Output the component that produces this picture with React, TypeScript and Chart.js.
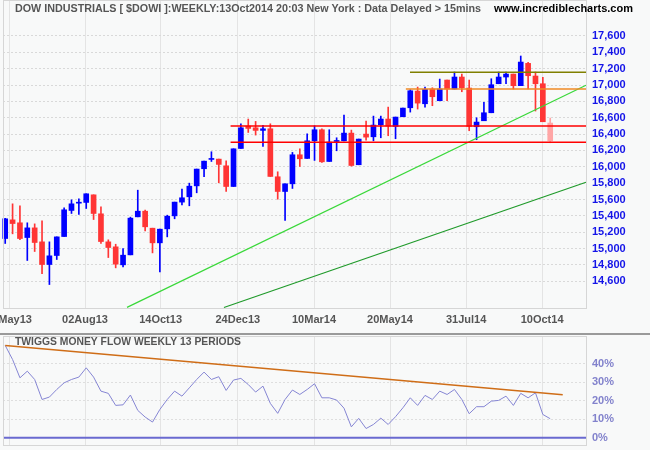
import React, { useEffect, useRef } from 'react';
import { Chart, registerables } from 'chart.js';
Chart.register(...registerables);

// Weekly candles (Dow Industrials), oldest first
const opens = [15123, 15351, 15315, 15135, 15253, 15082, 14805, 14915, 15147, 15466, 15555, 15564, 15657, 15425, 15082, 15021, 14801, 14923, 15388, 15457, 15249, 15070, 15241, 15400, 15568, 15633, 15767, 15976, 16090, 16094, 16012, 15759, 16224, 16498, 16477, 16445, 16465, 15878, 15698, 15792, 16147, 16102, 16318, 16453, 16065, 16310, 16318, 16412, 16025, 16400, 16367, 16514, 16584, 16494, 16612, 16722, 16926, 16771, 16951, 16808, 17061, 16951, 17098, 16963, 16490, 16563, 16661, 17016, 17098, 17134, 16992, 17265, 17110, 17016, 16535];
const highs = [15370, 15547, 15523, 15315, 15302, 15339, 15082, 15143, 15498, 15596, 15608, 15670, 15657, 15510, 15107, 15053, 15000, 15384, 15714, 15470, 15249, 15237, 15408, 15568, 15727, 15800, 15972, 16069, 16184, 16094, 16073, 16220, 16526, 16584, 16555, 16506, 16526, 15939, 15792, 16176, 16220, 16404, 16502, 16465, 16453, 16355, 16633, 16449, 16339, 16559, 16620, 16620, 16730, 16608, 16718, 16943, 16975, 16975, 16967, 17073, 17061, 17159, 17134, 17061, 16600, 16788, 17077, 17159, 17159, 17134, 17355, 17277, 17159, 17094, 16596];
const lows = [15062, 15180, 15110, 14854, 14964, 14694, 14560, 14866, 15147, 15429, 15417, 15490, 15355, 15062, 14890, 14764, 14776, 14923, 15388, 15217, 14947, 14715, 15143, 15364, 15535, 15523, 15682, 15878, 16065, 15804, 15698, 15759, 16224, 16420, 16388, 16249, 15882, 15604, 15343, 15735, 16004, 16102, 16078, 16053, 16065, 16196, 16318, 16008, 16025, 16327, 16318, 16355, 16380, 16343, 16612, 16669, 16706, 16730, 16747, 16808, 16808, 16951, 16918, 16441, 16331, 16563, 16661, 17016, 17016, 16951, 16992, 16951, 16682, 16551, 16294];
const closes = [15364, 15306, 15123, 15253, 15074, 14805, 14911, 15143, 15474, 15547, 15562, 15670, 15429, 15086, 15013, 14809, 14919, 15372, 15457, 15266, 15070, 15237, 15396, 15568, 15621, 15763, 15972, 16069, 16098, 16029, 15759, 16220, 16477, 16469, 16445, 16465, 15882, 15698, 15792, 16147, 16098, 16318, 16453, 16061, 16302, 16322, 16412, 16016, 16339, 16363, 16510, 16584, 16498, 16608, 16718, 16930, 16779, 16947, 16857, 16951, 16951, 17098, 16967, 16494, 16547, 16661, 17004, 17098, 17134, 16992, 17281, 17114, 17016, 16551, 16318];

// Twiggs Money Flow (weekly, 13 periods), %
const moneyFlow = [49.9, 42.3, 32.4, 36.0, 31.5, 20.7, 22.0, 26.1, 29.7, 31.5, 32.8, 37.8, 32.8, 25.2, 24.0, 17.5, 17.8, 23.1, 14.8, 11.2, 8.5, 15.3, 20.7, 25.2, 22.5, 27.0, 31.5, 35.5, 31.5, 33.0, 25.6, 31.2, 32.1, 28.8, 24.7, 27.9, 18.6, 13.2, 20.7, 25.8, 23.4, 26.1, 29.2, 21.6, 21.6, 20.4, 16.0, 5.9, 10.5, 5.0, 7.2, 10.6, 7.2, 11.4, 16.2, 21.6, 17.5, 22.9, 20.7, 25.2, 23.4, 26.1, 20.7, 13.0, 16.8, 16.8, 19.8, 20.2, 22.5, 17.5, 24.0, 21.6, 24.3, 12.6, 10.3];

const xTickPos = [0.52, 10.84, 21.1, 31.58, 41.93, 52.25, 62.58, 72.9];
const xTickLabels = ['22May13', '02Aug13', '14Oct13', '24Dec13', '10Mar14', '20May14', '31Jul14', '10Oct14'];
const priceTicks = [14600, 14800, 15000, 15200, 15400, 15600, 15800, 16000, 16200, 16400, 16600, 16800, 17000, 17200, 17400, 17600];
const mfTicks = [0, 10, 20, 30, 40];

const X_MIN = -0.3;
const X_MAX = 78.86;
const PRICE_MIN = 14273;
const PRICE_MAX = 18040;

const supportLevels = [16500, 16300];
const supportStartX = 30.6;
const olivePrice = 17155;
const oliveStartX = 54.96;
const orangePrice = 16950;
const orangeStartX = 54.4;
const upperTrendX = [16.54, 78.86];
const upperTrendY = [14281, 16998];
const lowerTrendX = [29.7, 78.86];
const lowerTrendY = [14279, 15811];
const mfTrendX = [0, 75.7];
const mfTrendY = [49.9, 23.2];

const titleText = 'DOW INDUSTRIALS [ $DOWI ]:WEEKLY:13Oct2014 20:03 New York : Data Delayed > 15mins';
const siteText = 'www.incrediblecharts.com';
const mfTitle = 'TWIGGS MONEY FLOW WEEKLY 13 PERIODS';

const BG = '#f8f9f9';
const FONT = '"Liberation Sans", Arial, sans-serif';

export default function App() {
  const topRef = useRef<HTMLCanvasElement>(null);
  const botRef = useRef<HTMLCanvasElement>(null);

  useEffect(() => {
    document.body.style.margin = '0';
    Chart.defaults.font.family = FONT;

    const bgPlugin = {
      id: 'bgFill',
      beforeDraw(chart: any) {
        const { ctx, width, height } = chart;
        ctx.save();
        ctx.fillStyle = BG;
        ctx.fillRect(0, 0, width, height);
        ctx.restore();
      },
    };

    const n = opens.length;
    const colors = opens.map((o, i) =>
      i === n - 1 ? '#ffa6a6' : closes[i] >= o ? '#0000ff' : '#ff3535'
    );

    const line = (pts: { x: number; y: number }[], color: string, width = 1) => ({
      type: 'line' as const,
      data: pts,
      borderColor: color,
      borderWidth: width,
      pointRadius: 0,
      fill: false,
      tension: 0,
      order: 0,
      clip: false as any,
    });

    const noPad = (s: any) => {
      s.paddingTop = 0;
      s.paddingBottom = 0;
      s.paddingLeft = 0;
      s.paddingRight = 0;
    };

    const topTextPlugin = {
      id: 'topText',
      afterDraw(chart: any) {
        const { ctx, chartArea, scales } = chart;
        ctx.save();
        ctx.strokeStyle = '#d6d6d6';
        ctx.lineWidth = 1;
        ctx.strokeRect(chartArea.left + 0.5, chartArea.top + 0.5, chartArea.right - chartArea.left, chartArea.bottom - chartArea.top);
        ctx.font = 'bold 11px ' + FONT;
        ctx.textBaseline = 'middle';
        ctx.textAlign = 'center';
        ctx.fillStyle = '#555555';
        xTickPos.forEach((v, i) => ctx.fillText(xTickLabels[i], scales.x.getPixelForValue(v), 320));
        ctx.textAlign = 'left';
        ctx.fillStyle = '#555555';
        ctx.fillText(titleText, 15, 9, 466);
        ctx.fillStyle = '#000000';
        ctx.fillText(siteText, 494, 9, 143);
        ctx.restore();
      },
    };

    const top = new Chart(topRef.current as HTMLCanvasElement, {
      type: 'bar',
      data: {
        datasets: [
          line([{ x: supportStartX, y: supportLevels[0] }, { x: X_MAX, y: supportLevels[0] }], '#ff0000', 1.5),
          line([{ x: supportStartX, y: supportLevels[1] }, { x: X_MAX, y: supportLevels[1] }], '#ff0000', 1.5),
          line([{ x: oliveStartX, y: olivePrice }, { x: X_MAX, y: olivePrice }], '#808000', 1.5),
          line([{ x: orangeStartX, y: orangePrice }, { x: X_MAX, y: orangePrice }], '#f08a24', 1.5),
          line([{ x: upperTrendX[0], y: upperTrendY[0] }, { x: upperTrendX[1], y: upperTrendY[1] }], '#3ad83a', 1.2),
          line([{ x: lowerTrendX[0], y: lowerTrendY[0] }, { x: lowerTrendX[1], y: lowerTrendY[1] }], '#1f9a2a', 1.2),
          {
            type: 'bar' as const,
            data: opens.map((o, i) => ({ x: i, y: [o, closes[i]] })) as any,
            backgroundColor: colors,
            barThickness: 5,
            minBarLength: 1,
            grouped: false,
            order: 1,
            clip: false as any,
          },
          {
            type: 'bar' as const,
            data: lows.map((l, i) => ({ x: i, y: [l, highs[i]] })) as any,
            backgroundColor: colors,
            barThickness: 1,
            grouped: false,
            order: 2,
            clip: false as any,
          },
        ] as any,
      },
      options: {
        responsive: false,
        animation: false,
        devicePixelRatio: 1,
        layout: { padding: { left: 3, top: 0, right: 0, bottom: 0 } },
        plugins: { legend: { display: false }, tooltip: { enabled: false } },
        scales: {
          x: {
            type: 'linear',
            min: X_MIN,
            max: X_MAX,
            offset: false,
            grid: { offset: false, color: '#e4e4e4', drawTicks: false },
            border: { display: false },
            ticks: { display: false },
            afterBuildTicks: (s: any) => { s.ticks = xTickPos.map((v) => ({ value: v })); },
            afterFit: (s: any) => { s.height = 25; noPad(s); },
          } as any,
          y: {
            position: 'right',
            min: PRICE_MIN,
            max: PRICE_MAX,
            grid: { color: '#d9d9d9', drawTicks: false },
            border: { display: false, dash: [2, 2] },
            ticks: {
              color: '#1414e8',
              padding: 6,
              font: { family: FONT, size: 11, weight: 'bold' },
              callback: (v: any) => Number(v).toLocaleString('en-US'),
            },
            afterBuildTicks: (s: any) => { s.ticks = priceTicks.map((v) => ({ value: v })); },
            afterFit: (s: any) => { s.width = 64; noPad(s); },
          } as any,
        },
      },
      plugins: [bgPlugin, topTextPlugin],
    });

    const botTextPlugin = {
      id: 'botText',
      afterDraw(chart: any) {
        const { ctx, chartArea, width } = chart;
        ctx.save();
        ctx.fillStyle = '#9a9a9a';
        ctx.fillRect(0, 0, width, 2);
        ctx.strokeStyle = '#d6d6d6';
        ctx.lineWidth = 1;
        ctx.strokeRect(chartArea.left + 0.5, chartArea.top + 0.5, chartArea.right - chartArea.left, chartArea.bottom - chartArea.top);
        ctx.font = 'bold 11px ' + FONT;
        ctx.textBaseline = 'middle';
        ctx.textAlign = 'left';
        ctx.fillStyle = '#555555';
        ctx.fillText(mfTitle, 15, 9, 226);
        ctx.restore();
      },
    };

    const bot = new Chart(botRef.current as HTMLCanvasElement, {
      type: 'line',
      data: {
        datasets: [
          {
            data: moneyFlow.map((v, i) => ({ x: i, y: v })),
            borderColor: '#8686d4',
            borderWidth: 1,
            pointRadius: 0,
            tension: 0,
            order: 2,
          },
          {
            data: [{ x: mfTrendX[0], y: mfTrendY[0] }, { x: mfTrendX[1], y: mfTrendY[1] }],
            borderColor: '#cf6d17',
            borderWidth: 1.5,
            pointRadius: 0,
            tension: 0,
            order: 1,
          },
          {
            data: [{ x: X_MIN, y: 0 }, { x: X_MAX, y: 0 }],
            borderColor: '#6a6ad0',
            borderWidth: 2,
            pointRadius: 0,
            tension: 0,
            order: 0,
          },
        ] as any,
      },
      options: {
        responsive: false,
        animation: false,
        devicePixelRatio: 1,
        layout: { padding: { left: 3, top: 3, right: 0, bottom: 0 } },
        plugins: { legend: { display: false }, tooltip: { enabled: false } },
        scales: {
          x: {
            type: 'linear',
            min: X_MIN,
            max: X_MAX,
            offset: false,
            grid: { offset: false, color: '#e4e4e4', drawTicks: false },
            border: { display: false },
            ticks: { display: false },
            afterBuildTicks: (s: any) => { s.ticks = xTickPos.map((v) => ({ value: v })); },
            afterFit: (s: any) => { s.height = 5; noPad(s); },
          } as any,
          y: {
            position: 'right',
            min: -3.9,
            max: 55,
            grid: { color: '#dedede', drawTicks: false },
            border: { display: false, dash: [2, 2] },
            ticks: {
              color: '#8282cc',
              padding: 6,
              font: { family: FONT, size: 11, weight: 'bold' },
              callback: (v: any) => v + '%',
            },
            afterBuildTicks: (s: any) => { s.ticks = mfTicks.map((v) => ({ value: v })); },
            afterFit: (s: any) => { s.width = 64; noPad(s); },
          } as any,
        },
      },
      plugins: [bgPlugin, botTextPlugin],
    });

    return () => {
      top.destroy();
      bot.destroy();
    };
  }, []);

  return (
    <div style={{ position: 'absolute', left: 0, top: 0, width: 650, height: 450, background: BG }}>
      <canvas ref={topRef} width={650} height={333} style={{ display: 'block' }} />
      <canvas ref={botRef} width={650} height={117} style={{ display: 'block' }} />
    </div>
  );
}
